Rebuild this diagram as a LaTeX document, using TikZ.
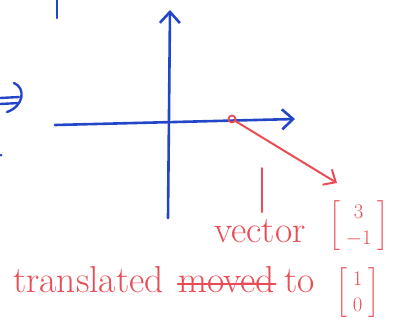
\documentclass[tikz,border=0pt]{standalone}
\usepackage{amsmath}
\usepackage{graphicx}
\usepackage{tikz}
\usetikzlibrary{arrows.meta, positioning}

\definecolor{penblue}{RGB}{35,70,200}
\definecolor{penred}{RGB}{235,75,85}

\begin{document}
\begin{tikzpicture}[x=1pt, y=-1pt, line cap=round, line join=round,
  axis/.style={draw=penblue, line width=2.6pt, -{Straight Barb[length=11pt, width=20pt]}},
  ink/.style={draw=penblue, line width=2.4pt},
  redink/.style={draw=penred, line width=2pt},
  word/.style={text=penred, inner sep=0pt, font=\fontsize{37.5}{40}\selectfont},
  vec/.style={text=penred, inner sep=0pt, font=\fontsize{19}{22}\selectfont}]
  \useasboundingbox (0,0) rectangle (393,322);

  % axes
  \coordinate (yb) at (168,218);
  \coordinate (yt) at (170,10);
  \coordinate (xl) at (55,125);
  \coordinate (xr) at (295,119);
  \draw [axis] (yb) -- (yt);
  \draw [axis] (xl) -- (xr);

  % leftovers at the page edge
  \draw [ink] (57,0) -- (57,18);
  \draw [ink] (0,98) -- (19,97);
  \draw [ink] (0,104) -- (19,103);
  \draw [ink] (14,83) .. controls (26,88) and (24,106) .. (7,112);
  \fill [penblue] (1,155) circle (1.5pt);

  % the vector
  \node (start) [circle, draw=penred, line width=1.8pt, inner sep=0pt, minimum size=7pt] at (232,119) {};
  \coordinate (tip) at (337,183);
  \draw [redink, -{Straight Barb[length=10pt, width=18pt]}] (start) -- (tip);

  % labels
  \node (vword) [word, anchor=base west] at (214,242) {vector};
  \node (vmat) [vec, anchor=west] at (329,226) {\scalebox{1.2}{$\left[\;\begin{matrix} 3\\ -1 \end{matrix}\;\right]$}};
  \coordinate (marktop) at (262,168);
  \coordinate (markbot) at (262,212);
  \draw [redink] (markbot) -- (marktop);

  \node (trans) [word, anchor=base west] at (13,292) {translated};
  \node (moved) [word, anchor=base west] at (178,292) {moved};
  \draw [redink, line width=2.6pt] ([yshift=8pt]moved.base west) -- ([yshift=8pt]moved.base east);
  \node (to) [word, anchor=base west] at (284,292) {to};
  \node (tmat) [vec, anchor=west] at (336,293) {\scalebox{1.2}{$\left[\;\begin{matrix} 1\\ 0 \end{matrix}\;\right]$}};
\end{tikzpicture}
\end{document}
